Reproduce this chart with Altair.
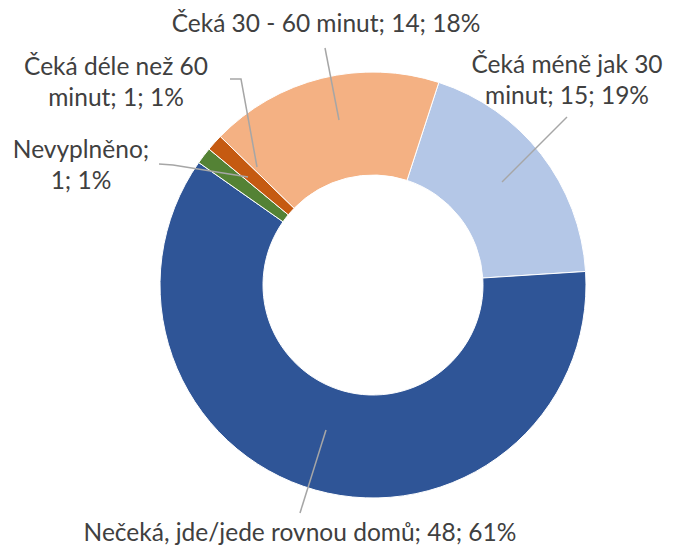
import math
import altair as alt
import pandas as pd

# ---- data ----
categories = [
    "Čeká méně jak 30 minut",
    "Nečeká, jde/jede rovnou domů",
    "Nevyplněno",
    "Čeká déle než 60 minut",
    "Čeká 30 - 60 minut",
]
counts = [15, 48, 1, 1, 14]
percents = [19, 61, 1, 1, 18]
colors = ["#B4C7E7", "#2F5597", "#548235", "#C55A11", "#F4B183"]

# label text lines (as wrapped in the original)
label_lines = [
    ["Čeká méně jak 30", "minut; 15; 19%"],
    ["Nečeká, jde/jede rovnou domů; 48; 61%"],
    ["Nevyplněno;", "1; 1%"],
    ["Čeká déle než 60", "minut; 1; 1%"],
    ["Čeká 30 - 60 minut; 14; 18%"],
]

# ---- layout (page pixel coordinates) ----
W, H = 662, 540
OFF = 8
center_x, center_y = 373, 285
outer_r, inner_r = 213, 110
start_deg = 18.0

label_x = [567, 300, 81, 116, 326]
label_base_y = [73, 541, 158, 75, 32]

leaders = [
    [(567, 117), (502, 182)],
    [(300, 513), (326, 430)],
    [(159, 164), (173, 165), (248, 177)],
    [(230, 79), (241, 79), (257, 167)],
    [(325, 48), (339, 120)],
]

pie_df = pd.DataFrame({
    "category": categories,
    "count": counts,
    "idx": list(range(len(categories))),
})

text_df = pd.DataFrame({
    "text": ["\n".join(l) for l in label_lines],
    "x": label_x,
    "y": label_base_y,
})

rows = []
for s, pts in enumerate(leaders):
    for i, (px, py) in enumerate(pts):
        rows.append({"seg": s, "i": i, "x": px, "y": py})
line_df = pd.DataFrame(rows)

xscale = alt.Scale(domain=[OFF, OFF + W], range=[0, W])
yscale = alt.Scale(domain=[OFF, OFF + H], range=[0, H])

start = math.radians(start_deg)
donut = alt.Chart(pie_df).mark_arc(
    outerRadius=outer_r, innerRadius=inner_r, stroke="white", strokeWidth=1
).encode(
    theta=alt.Theta("count:Q", stack=True, scale=alt.Scale(range=[start, start + 2 * math.pi])),
    color=alt.Color("category:N", scale=alt.Scale(domain=categories, range=colors), legend=None),
    order=alt.Order("idx:Q"),
    x=alt.value(center_x - OFF),
    y=alt.value(center_y - OFF),
)

lines = alt.Chart(line_df).mark_line(color="#A6A6A6", strokeWidth=1.5).encode(
    x=alt.X("x:Q", scale=xscale, axis=None),
    y=alt.Y("y:Q", scale=yscale, axis=None),
    detail="seg:N",
    order="i:Q",
)

texts = alt.Chart(text_df).mark_text(
    font="Lato", fontSize=24.5, color="#404040", lineBreak="\n", lineHeight=31,
    align="center", baseline="alphabetic",
).encode(
    x=alt.X("x:Q", scale=xscale, axis=None),
    y=alt.Y("y:Q", scale=yscale, axis=None),
    text="text:N",
)

chart = alt.layer(donut, lines, texts).properties(
    width=W, height=H, padding=0, autosize=alt.AutoSizeParams(type="none")
).configure_view(stroke=None)

chart.save("out.html", embed_options={"renderer": "svg", "actions": False})
